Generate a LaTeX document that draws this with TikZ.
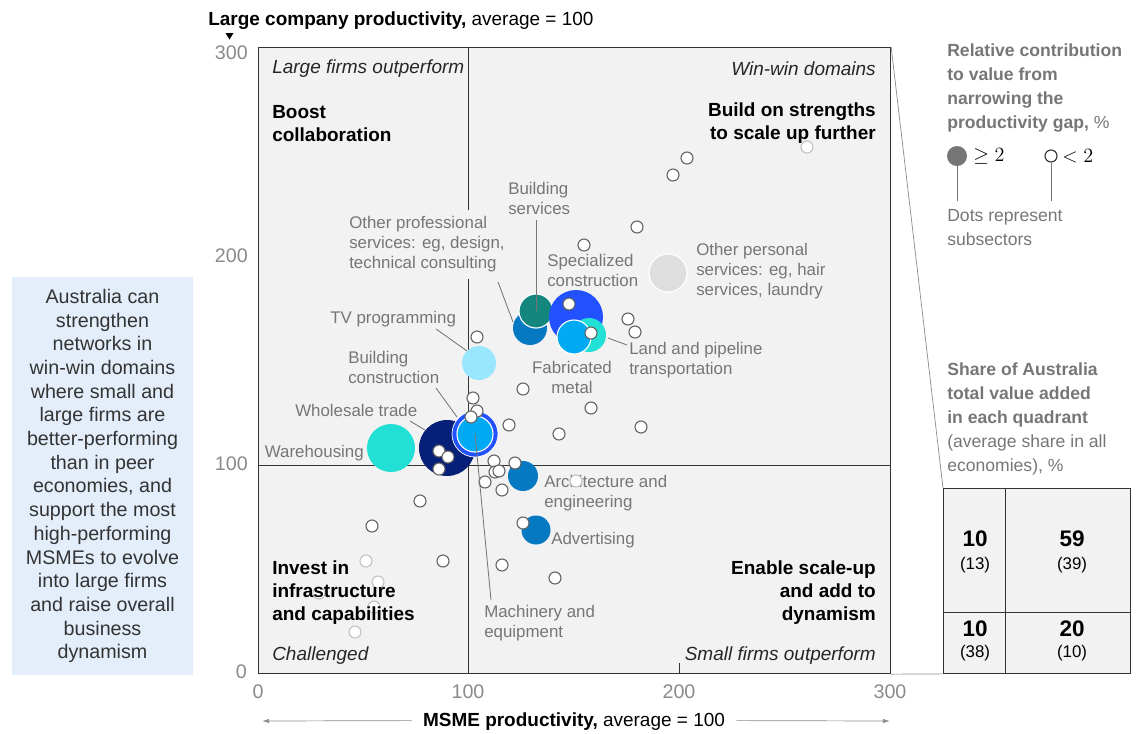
\documentclass[tikz,border=0pt]{standalone}
\usepackage{fontspec}
\setmainfont{Liberation Sans}
\usetikzlibrary{arrows.meta}

\definecolor{plotbg}{HTML}{F2F2F2}
\definecolor{framegray}{HTML}{333333}
\definecolor{labelgray}{HTML}{767676}
\definecolor{tickgray}{HTML}{8A8A8A}
\definecolor{dotgray}{HTML}{666666}
\definecolor{navy}{HTML}{061F79}
\definecolor{electric}{HTML}{2251FF}
\definecolor{skyblue}{HTML}{00A9F4}
\definecolor{aqua}{HTML}{22E0D6}
\definecolor{midblue}{HTML}{0679C3}
\definecolor{tealgreen}{HTML}{13877D}
\definecolor{paleblue}{HTML}{99E6FF}
\definecolor{palegray}{HTML}{DEDEDE}
\definecolor{boxblue}{HTML}{E4EEFB}
\definecolor{textdark}{HTML}{333333}

\begin{document}
\begin{tikzpicture}[
    x=0.025cm, y=-0.025cm,
    lbl/.style={inner sep=0, align=left, text=labelgray, font=\fontsize{12}{14.2}\selectfont},
    quad/.style={inner sep=0, text=black, font=\fontsize{13.5}{16.4}\selectfont\bfseries},
    note/.style={inner sep=0, text=black!85, font=\fontsize{13.5}{16.4}\selectfont\itshape},
    ticklbl/.style={inner sep=0, text=tickgray, font=\fontsize{14}{16}\selectfont},
    legtxt/.style={inner sep=0, align=left, text=labelgray, font=\fontsize{12.5}{17}\selectfont},
    numtxt/.style={inner sep=0, align=center, text=black, font=\fontsize{12}{15}\selectfont},
    bubble/.style={circle, inner sep=0, minimum size=#1*0.05cm},
    dot/.style={circle, draw=dotgray, fill=white, line width=0.8pt, inner sep=0, minimum size=0.3cm},
    faded/.style={dot, draw=dotgray!40},
    leader/.style={draw=labelgray, line width=0.6pt},
    cell/.style={draw=framegray, fill=plotbg, line width=0.6pt, inner sep=0, anchor=north west},
    link/.style={draw=tickgray, line width=0.5pt},
    axarrow/.style={draw=tickgray, line width=0.5pt, -{Latex[length=5pt,width=3pt]}}
]
\useasboundingbox (0,0) rectangle (1142,733);

% message box
\node[fill=boxblue, minimum width=4.525cm, minimum height=9.95cm, align=center,
      text=textdark, font=\fontsize{14}{16.86}\selectfont] (msg) at (102.5,476) {
    Australia can\\ strengthen\\ networks in\\ win-win domains\\ where small and\\
    large firms are\\ better-performing\\ than in peer\\ economies, and\\
    support the most\\ high-performing\\ MSMEs to evolve\\ into large firms\\
    and raise overall\\ business\\ dynamism
};

% plot area
\node[fill=plotbg, draw=framegray, line width=0.7pt, inner sep=0, anchor=north west,
      minimum width=15.8cm, minimum height=15.65cm] (plot) at (258,47) {};
\draw[framegray, line width=0.7pt] (468,47) -- (468,673);
\draw[framegray, line width=0.7pt] (258,465) -- (890,465);
\draw[framegray, line width=0.6pt] (679,673) -- (679,663);

% axes
\node[anchor=west, inner sep=0, font=\fontsize{13.5}{16}\selectfont] (ytitle) at (208,21)
    {\textbf{Large company productivity,} average = 100};
\fill (225.5,33) -- (233.5,33) -- (229.5,39.5) -- cycle;
\node[ticklbl, anchor=east] (y300) at (248,53) {300};
\node[ticklbl, anchor=east] (y200) at (248,256) {200};
\node[ticklbl, anchor=east] (y100) at (248,464) {100};
\node[ticklbl, anchor=east] (y0) at (247,672) {0};
\node[ticklbl] (x0) at (258,692) {0};
\node[ticklbl] (x100) at (468,692) {100};
\node[ticklbl] (x200) at (679,692) {200};
\node[ticklbl] (x300) at (890,692) {300};
\node[inner sep=0, font=\fontsize{13.5}{16}\selectfont] (xtitle) at (574,722)
    {\textbf{MSME productivity,} average = 100};
\coordinate (xleft) at (262,721);
\coordinate (xright) at (890,721);
\draw[axarrow] ([xshift=-8pt,yshift=1pt]xtitle.west) -- (xleft);
\draw[axarrow] ([xshift=8pt,yshift=1pt]xtitle.east) -- (xright);

% quadrant texts
\node[note, anchor=west] (nwnote) at (272,69) {Large firms outperform};
\node[note, anchor=east] (nenote) at (876,69) {Win-win domains};
\node[note, anchor=west] (swnote) at (272,656) {Challenged};
\node[note, anchor=east] (senote) at (876,656) {Small firms outperform};

% faded dots under the quadrant texts
\foreach \x/\y [count=\i] in {807/147, 366/561, 378/582, 319/593, 374/607, 355/632}
    \node[faded] (f\i) at (\x,\y) {};

\node[quad, anchor=west, align=left] (nwquad) at (272,123.5) {Boost\\collaboration};
\node[quad, anchor=east, align=right] (nequad) at (876,123.5) {Build on strengths\\to scale up further};
\node[quad, anchor=west, align=left] (swquad) at (272,593) {Invest in\\infrastructure\\and capabilities};
\node[quad, anchor=east, align=right] (sequad) at (876,593) {Enable scale-up\\and add to\\dynamism};

% subsector labels
\node[lbl, anchor=west] (bsvl) at (508,198.5) {Building\\services};
\node[lbl, anchor=west, fill=plotbg, inner ysep=5pt] (opsl) at (349,244.5)
    {Other professional\\services: eg, design,\\technical consulting};
\node[lbl, anchor=west] (spcl) at (547,270.5) {Specialized\\construction};
\node[lbl, anchor=west] (persl) at (696,271) {Other personal\\services: eg, hair\\services, laundry};
\node[lbl, anchor=west] (tvpl) at (330,319) {TV programming};
\node[lbl, anchor=west] (bconl) at (348,367.5) {Building\\construction};
\node[lbl, anchor=west] (whsl) at (295,410) {Wholesale trade};
\node[lbl, anchor=east] (wrhl) at (364,453) {Warehousing};
\node[lbl, align=center] (fabl) at (572,377.5) {Fabricated\\metal};
\node[lbl, anchor=west] (lptl) at (629,360) {Land and pipeline\\transportation};
\node[lbl, anchor=west] (archl) at (544,493.5) {Architecture and\\engineering};
\node[lbl, anchor=west] (advl) at (551,540) {Advertising};
\node[lbl, anchor=west] (machl) at (484,623.5) {Machinery and\\equipment};
\node[faded] (f7) at (576,481) {};

% bubbles
\node[bubble=24, fill=aqua] (wrh) at (391,448) {};
\node[bubble=28, fill=navy] (whs) at (447,448) {};
\node[bubble=23, fill=electric, draw=white, line width=0.5pt] (bconring) at (475,434) {};
\node[bubble=18, fill=skyblue, draw=white, line width=0.8pt] (bcon) at (475,434) {};
\node[bubble=17, fill=paleblue] (tvp) at (479,363) {};
\node[bubble=17, fill=midblue] (ops) at (530,328) {};
\node[bubble=17, fill=tealgreen, draw=white, line width=0.8pt] (bsv) at (536,311) {};
\node[bubble=27, fill=electric] (spc) at (576,317) {};
\node[bubble=17, fill=aqua] (lpt) at (589,335) {};
\node[bubble=17, fill=skyblue, draw=white, line width=0.8pt] (fab) at (574,337) {};
\node[bubble=19, fill=palegray, draw=white, line width=0.8pt] (pers) at (668,273) {};
\node[bubble=15, fill=midblue] (arch) at (523,476) {};
\node[bubble=14.5, fill=midblue] (adv) at (536,530) {};

% subsector dots
\foreach \x/\y [count=\i] in {687/158, 673/175, 637/227, 584/245, 628/319, 635/332,
    569/304, 591/333, 477/337, 523/389, 591/408, 641/427, 559/434, 509/425,
    473/398, 477/411, 471/417, 439/451, 448/457, 439/469, 494/461, 515/463,
    495/472, 499/471, 485/482, 502/490, 420/501, 523/523, 372/526, 443/561,
    502/565, 555/578}
    \node[dot] (d\i) at (\x,\y) {};

% leaders
\coordinate (bsvend) at (536,220);
\coordinate (opsend) at (498,282);
\coordinate (tvpend) at (436,329);
\coordinate (bconend) at (436,388);
\coordinate (whsend) at (410,421);
\coordinate (lptend) at (627,345);
\coordinate (machend) at (491,600);
\draw[leader] (bsvend) -- (bsv.center);
\draw[leader] (opsend) -- (513,322);
\draw[leader] (tvpend) -- (tvp.north west);
\draw[leader] (bconend) -- (457,417);
\draw[leader] (whsend) -- (425,430);
\draw[leader] (lptend) -- (608,338);
\draw[leader] (bcon.center) -- (machend);

% legend
\node[legtxt, anchor=west] (legtitle) at (947,88)
    {\textbf{Relative contribution}\\\textbf{to value from}\\\textbf{narrowing the}\\\textbf{productivity gap,} \%};
\node[bubble=10, fill=labelgray] (lgbig) at (957,156) {};
\node[inner sep=0, anchor=west, font=\fontsize{14}{16}\selectfont] (lgge) at (973,156) {$\geq 2$};
\node[dot, draw=black!80] (lgsmall) at (1051,156) {};
\node[inner sep=0, anchor=west, font=\fontsize{14}{16}\selectfont] (lglt) at (1062,156) {$<2$};
\coordinate (lgbigend) at (957,201);
\coordinate (lgsmallend) at (1051,201);
\draw[leader] (lgbig.south) -- (lgbigend);
\draw[leader] (lgsmall.south) -- (lgsmallend);
\node[legtxt, anchor=west, font=\fontsize{12.5}{16.4}\selectfont] (lgdots) at (947,227.5) {Dots represent\\subsectors};
\node[legtxt, anchor=west] (sharetitle) at (947,419)
    {\textbf{Share of Australia}\\\textbf{total value added}\\\textbf{in each quadrant}\\(average share in all\\economies), \%};

% quadrant shares
\node[cell, minimum width=1.55cm, minimum height=3.1cm] (tl) at (943,488) {};
\node[cell, minimum width=3.125cm, minimum height=3.1cm] (tr) at (1005,488) {};
\node[cell, minimum width=1.55cm, minimum height=1.525cm] (bl) at (943,612) {};
\node[cell, minimum width=3.125cm, minimum height=1.525cm] (br) at (1005,612) {};
\node[numtxt] (tlnum) at (975,552) {{\fontsize{16}{18}\selectfont\bfseries 10}\\[1pt](13)};
\node[numtxt] (trnum) at (1072,552) {{\fontsize{16}{18}\selectfont\bfseries 59}\\[1pt](39)};
\node[numtxt] (blnum) at (975,641) {{\fontsize{16}{18}\selectfont\bfseries 10}\\[0pt](38)};
\node[numtxt] (brnum) at (1072,641) {{\fontsize{16}{18}\selectfont\bfseries 20}\\[0pt](10)};

\draw[link] (plot.north east) -- (tl.north west);
\draw[link] (plot.south east) -- (bl.south west);

\end{tikzpicture}
\end{document}
